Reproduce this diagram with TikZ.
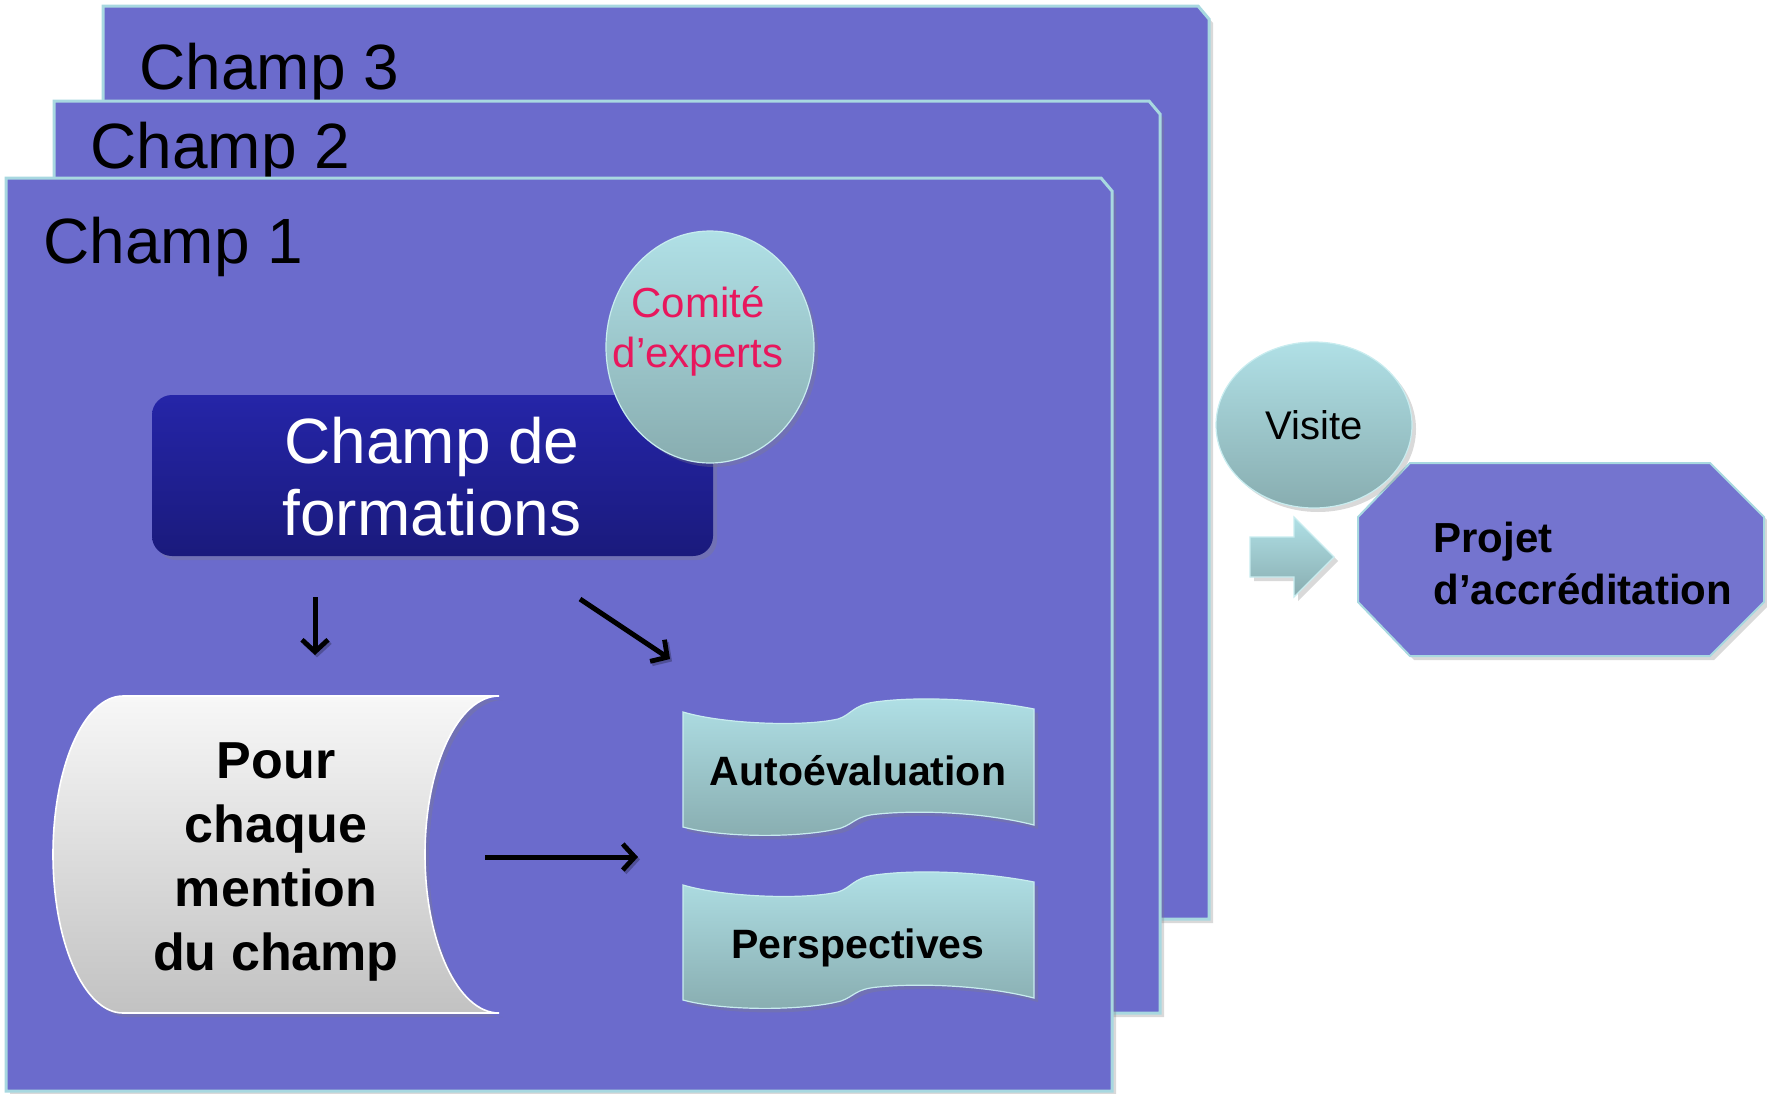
\documentclass[tikz,border=0pt]{standalone}
\usepackage{fontspec}
\setmainfont{Liberation Sans}
\usetikzlibrary{shadows,arrows.meta,shapes.geometric}
\definecolor{champfill}{HTML}{6B6BCC}
\definecolor{champline}{HTML}{A8D8E0}
\definecolor{aqtop}{HTML}{B0E0E6}
\definecolor{aqbot}{HTML}{88ADB0}
\definecolor{aqline}{HTML}{C8ECEF}
\definecolor{navytop}{HTML}{2525A8}
\definecolor{navybot}{HTML}{1A1A7C}
\definecolor{octfill}{HTML}{7474CF}
\definecolor{pinktext}{HTML}{E8175D}
\begin{document}
\begin{tikzpicture}[x=0.5pt,y=-0.5pt,
  shad/.style={drop shadow={opacity=0.3,shadow xshift=2pt,shadow yshift=-2pt}},
  champbox/.style={fill=champfill, draw=champline, line width=1.5pt, shad},
  champlabel/.style={anchor=base west, inner sep=0pt, font=\fontsize{32}{38}\selectfont},
  cdfbox/.style={rounded corners=10pt, top color=navytop, bottom color=navybot, draw=none, shad, inner sep=0pt},
  bubble/.style={ellipse, top color=aqtop, bottom color=aqbot, draw=aqline, line width=0.6pt, shad, inner sep=0pt},
  aqshape/.style={top color=aqtop, bottom color=aqbot, draw=aqline, line width=0.6pt, shad},
  scroll/.style={top color=white!97!black, bottom color=black!24, draw=white, line width=0.8pt, shad},
  octo/.style={fill=octfill, draw=champline, line width=1pt, shad},
  blackarrow/.style={line width=2.5pt, -{Straight Barb[length=6pt,width=13pt,line width=2.4pt]},
     preaction={draw=black, opacity=0.25, transform canvas={shift={(1pt,-1.2pt)}}}},
  wavetext/.style={anchor=base, inner sep=0pt, font=\bfseries\fontsize{20.5}{24}\selectfont}
]
\useasboundingbox (0,0) rectangle (1767,1093);

% stacked fields
\path[champbox] (103,6) -- (1198,6) -- (1209,19) -- (1209,919) -- (103,919) -- cycle;
\node[champlabel] (lab3) at (139,89) {Champ 3};
\path[champbox] (54,101) -- (1149,101) -- (1160,114) -- (1160,1013) -- (54,1013) -- cycle;
\node[champlabel] (lab2) at (90,168) {Champ 2};
\path[champbox] (6,178) -- (1101,178) -- (1112,191) -- (1112,1091) -- (6,1091) -- cycle;
\node[champlabel] (lab1) at (43,263) {Champ 1};

% champ de formations
\node[cdfbox, minimum width=280.5pt, minimum height=80.5pt] (cdf) at (432.5,475.5) {};
\node[align=center, text=white, font=\fontsize{32}{36}\selectfont, inner sep=0pt] (cdftext) at (432,477) {Champ de\\formations};

% comite
\node[bubble, minimum width=104pt, minimum height=116pt] (comite) at (710,347) {};
\node[align=center, text=pinktext, font=\fontsize{21}{25}\selectfont, inner sep=0pt] (comitetext) at (698,331.5) {Comité\\d’experts};

% pour chaque mention
\path[scroll] (123,696) -- (499,696) .. controls (458,696) and (425,767) .. (425,854.5)
  .. controls (425,942) and (458,1013) .. (499,1013) -- (123,1013)
  .. controls (84,1013) and (53,942) .. (53,854.5)
  .. controls (53,767) and (84,696) .. (123,696) -- cycle;
\node[align=center, font=\bfseries\fontsize{26}{32}\selectfont, inner sep=0pt] (pour) at (276,861.5) {Pour\\chaque\\mention\\du champ};

% waves
\path[aqshape, shift={(683,712)}] (0,0) .. controls (40,12) and (120,15) .. (155,7)
  .. controls (168,3) and (170,-7) .. (192,-10) .. controls (235,-16) and (300,-13) .. (351,-3)
  -- (351,113) .. controls (300,100) and (235,98) .. (195,102)
  .. controls (172,104) and (172,111) .. (158,116) .. controls (120,126) and (40,126) .. (0,115) -- cycle;
\node[wavetext] (auto) at (858,785) {Autoévaluation};
\path[aqshape, shift={(683,885)}] (0,0) .. controls (40,12) and (120,15) .. (155,7)
  .. controls (168,3) and (170,-7) .. (192,-10) .. controls (235,-16) and (300,-13) .. (351,-3)
  -- (351,113) .. controls (300,100) and (235,98) .. (195,102)
  .. controls (172,104) and (172,111) .. (158,116) .. controls (120,126) and (40,126) .. (0,115) -- cycle;
\node[wavetext] (persp) at (858,958) {Perspectives};

% black arrows
\coordinate (a1s) at (315,597); \coordinate (a1e) at (315,655);
\coordinate (a2s) at (580,599); \coordinate (a2e) at (670,659);
\coordinate (a3s) at (485,857); \coordinate (a3e) at (638,857);
\draw[blackarrow] (a1s) -- (a1e);
\draw[blackarrow] (a2s) -- (a2e);
\draw[blackarrow] (a3s) -- (a3e);

% projet
\path[octo] (1410,463) -- (1710,463) -- (1764,517) -- (1764,602) -- (1710,656) -- (1410,656) -- (1358,602) -- (1358,517) -- cycle;
\node[anchor=north west, align=left, inner sep=0pt, font=\bfseries\fontsize{21}{26}\selectfont] (projet) at (1433,522) {Projet\\d’accréditation};

% visite
\node[bubble, minimum width=98pt, minimum height=83pt, font=\fontsize{20}{24}\selectfont] (visite) at (1314,425) {Visite};

% block arrow
\path[aqshape] (1250,537) -- (1294,537) -- (1294,517) -- (1334,557) -- (1294,597) -- (1294,577) -- (1250,577) -- cycle;
\end{tikzpicture}
\end{document}
